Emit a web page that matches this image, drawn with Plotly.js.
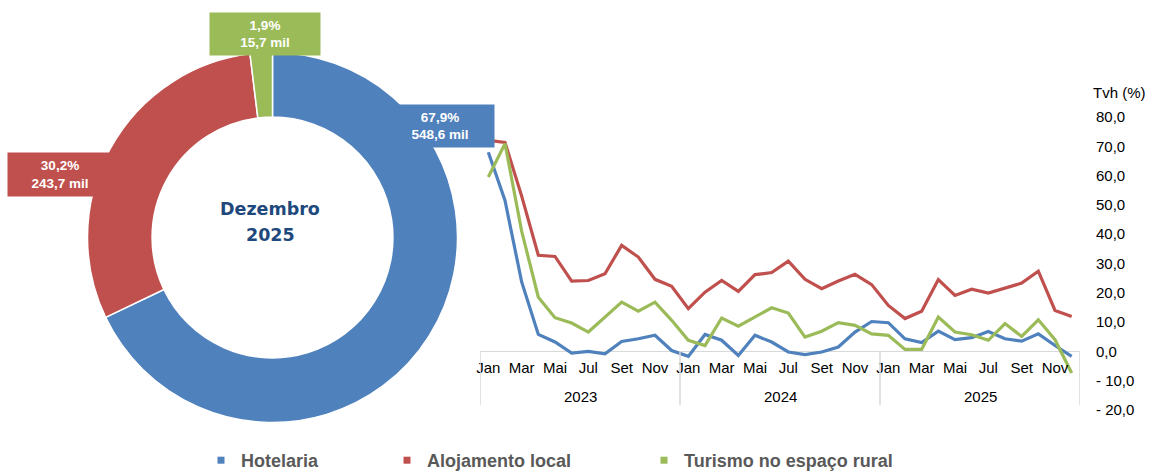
<!DOCTYPE html>
<html lang="pt">
<head>
<meta charset="utf-8">
<script src="https://cdn.plot.ly/plotly-3.0.1.min.js"></script>
<style>
  html, body { margin: 0; padding: 0; background: #ffffff; }
  #chart { width: 1150px; height: 472px; }
</style>
</head>
<body>
<div id="chart"></div>
<script>
// Series names and colours
const seriesNames = ['Hotelaria', 'Alojamento local', 'Turismo no espaço rural'];
const seriesColors = ['#4F81BD', '#C0504D', '#9BBB59'];

// Donut: guests in December 2025 (thousands)
const donutTitle = ['Dezembro', '2025'];
const donutValues = [548.6, 243.7, 15.7];

// Monthly year-on-year change (%), Jan 2023 .. Dez 2025
const years = ['2023', '2024', '2025'];
const months = ['Jan', 'Fev', 'Mar', 'Abr', 'Mai', 'Jun', 'Jul', 'Ago', 'Set', 'Out', 'Nov', 'Dez'];

const hotelaria = [
  68.0, 51.5, 23.7, 5.8, 3.2, -0.6, 0.0, -0.8, 3.4, 4.3, 5.5, 0.3,
  -1.7, 5.8, 3.8, -1.4, 5.5, 3.2, -0.2, -1.1, -0.2, 1.5, 6.6, 10.2,
  9.8, 4.3, 3.0, 6.9, 4.0, 4.7, 6.8, 4.3, 3.5, 6.0, 2.0, -1.7
];
const alojamentoLocal = [
  72.0, 71.3, 53.0, 32.8, 32.4, 24.0, 24.2, 26.5, 36.2, 32.2, 24.6, 22.2,
  14.6, 20.2, 24.2, 20.5, 26.2, 26.9, 30.8, 24.6, 21.4, 24.0, 26.3, 22.8,
  15.7, 11.2, 13.7, 24.5, 19.1, 21.2, 19.9, 21.7, 23.3, 27.4, 14.0, 11.9
];
const turismoRural = [
  59.5, 70.9, 41.0, 18.5, 11.5, 9.7, 6.6, 11.7, 16.8, 13.7, 16.8, 10.6,
  3.8, 2.0, 11.4, 8.6, 11.7, 14.9, 13.1, 4.9, 6.9, 9.8, 8.9, 6.0,
  5.5, 0.7, 0.7, 11.7, 6.6, 5.7, 3.8, 9.5, 5.1, 10.8, 4.0, -7.4
];

// Value axis ticks
const yTickVals = [-20, -10, 0, 10, 20, 30, 40, 50, 60, 70, 80];
const yTickText = ['- 20,0', '- 10,0', '0,0', '10,0', '20,0', '30,0', '40,0', '50,0', '60,0', '70,0', '80,0'];
const yAxisLabel = 'Tvh (%)';

// ---------------------------------------------------------------
const W = 1150, H = 472;
const px = x => x / W;          // pixel -> paper x
const py = y => 1 - y / H;      // pixel -> paper y
const FONT = 'Liberation Sans, Arial, Helvetica, sans-serif';
const fmt1 = v => v.toFixed(1).replace('.', ',');

// one category per month, labelled every second month on the axis
const categories = [];
years.forEach(y => months.forEach(m => categories.push(m + ' ' + y)));
const tickVals = categories.filter((c, i) => i % 2 === 0);
const tickText = tickVals.map(c => c.split(' ')[0]);

const lineSeries = [hotelaria, alojamentoLocal, turismoRural];

const traces = [];

// donut
traces.push({
  type: 'pie',
  values: donutValues,
  labels: seriesNames,
  sort: false,
  direction: 'clockwise',
  rotation: 0,
  hole: 0.651,
  textinfo: 'none',
  hoverinfo: 'skip',
  showlegend: false,
  marker: { colors: seriesColors, line: { color: '#ffffff', width: 1.5 } },
  domain: { x: [px(87.5), px(457.5)], y: [py(422.5), py(52.5)] }
});

// monthly lines
lineSeries.forEach((vals, k) => {
  traces.push({
    type: 'scatter',
    mode: 'lines',
    x: categories,
    y: vals,
    name: seriesNames[k],
    line: { color: seriesColors[k], width: 3.2 },
    showlegend: false,
    hoverinfo: 'skip',
    xaxis: 'x', yaxis: 'y'
  });
});

// legend entries (square keys), one legend box per series
const legendIds = ['legend', 'legend2', 'legend3'];
seriesNames.forEach((name, k) => {
  traces.push({
    type: 'scatter',
    mode: 'markers',
    x: [null], y: [null],
    name: name,
    legend: legendIds[k],
    marker: { symbol: 'square', size: 7, color: seriesColors[k] },
    showlegend: true,
    hoverinfo: 'skip',
    xaxis: 'x', yaxis: 'y'
  });
});

const legendBase = {
  orientation: 'v',
  xanchor: 'left', yanchor: 'middle',
  y: py(460.5),
  bgcolor: 'rgba(0,0,0,0)',
  borderwidth: 0,
  itemwidth: 30,
  font: { family: FONT, size: 18, color: '#595959', weight: 'bold' }
};
const legendX = [201, 387, 644];

// donut labels
const total = donutValues.reduce((a, b) => a + b, 0);
const labelBoxes = [
  { cx: 440, cy: 126, w: 108, h: 42 },
  { cx: 60, cy: 174, w: 104, h: 43 },
  { cx: 265, cy: 34.5, w: 110, h: 42 }
];
const annotations = [];
donutValues.forEach((v, k) => {
  const b = labelBoxes[k];
  annotations.push({
    xref: 'paper', yref: 'paper',
    x: px(b.cx), y: py(b.cy),
    xanchor: 'center', yanchor: 'middle',
    width: b.w, height: b.h,
    borderpad: 0,
    bgcolor: seriesColors[k],
    showarrow: false,
    align: 'center', valign: 'middle',
    text: fmt1(v / total * 100) + '%<br>' + fmt1(v) + ' mil',
    font: { family: FONT, size: 13.5, color: '#ffffff', weight: 'bold' }
  });
});

// centre caption of the donut
[209, 235].forEach((yy, i) => {
  annotations.push({
    xref: 'paper', yref: 'paper',
    x: px(270), y: py(yy),
    xanchor: 'center', yanchor: 'middle',
    showarrow: false,
    text: donutTitle[i],
    font: { family: 'DejaVu Sans, sans-serif', size: 17.5, color: '#1F497D', weight: 'bold' }
  });
});

// year labels under the month labels
years.forEach((y, i) => {
  annotations.push({
    xref: 'x', yref: 'paper',
    x: i * months.length + (months.length - 1) / 2,
    y: py(396),
    xanchor: 'center', yanchor: 'middle',
    showarrow: false,
    text: y,
    font: { family: FONT, size: 15, color: '#000000' }
  });
});

// value-axis caption
annotations.push({
  xref: 'paper', yref: 'paper',
  x: px(1091), y: py(92.5),
  xanchor: 'left', yanchor: 'middle',
  showarrow: false,
  text: yAxisLabel,
  font: { family: FONT, size: 15, color: '#000000' }
});

// year group dividers on the category axis
const shapes = [];
for (let i = 0; i <= years.length; i++) {
  shapes.push({
    type: 'line', xref: 'x', yref: 'paper',
    x0: i * months.length - 0.5, x1: i * months.length - 0.5,
    y0: py(351), y1: py(405),
    line: { color: '#D9D9D9', width: 1.5 }
  });
}

const layout = {
  width: W, height: H,
  margin: { l: 0, r: 0, t: 0, b: 0, pad: 0, autoexpand: false },
  paper_bgcolor: '#ffffff',
  plot_bgcolor: 'rgba(0,0,0,0)',
  font: { family: FONT, size: 15, color: '#000000' },
  showlegend: true,
  xaxis: {
    type: 'category',
    domain: [px(480), px(1080)],
    range: [-0.5, categories.length - 0.5],
    anchor: 'free',
    position: py(351),
    tickmode: 'array',
    tickvals: tickVals,
    ticktext: tickText,
    tickangle: 0,
    ticks: '',
    showgrid: false,
    showline: false,
    zeroline: false,
    ticklabelstandoff: 6,
    automargin: false,
    tickfont: { family: FONT, size: 15, color: '#000000' }
  },
  yaxis: {
    domain: [py(410), py(117)],
    range: [-20, 80],
    side: 'right',
    anchor: 'x',
    tickmode: 'array',
    tickvals: yTickVals,
    ticktext: yTickText,
    ticks: '',
    showgrid: false,
    showline: false,
    zeroline: true,
    zerolinecolor: '#D9D9D9',
    zerolinewidth: 1.5,
    ticklabelstandoff: 15,
    automargin: false,
    tickfont: { family: FONT, size: 15, color: '#000000' }
  },
  annotations: annotations,
  shapes: shapes
};
legendIds.forEach((id, k) => {
  layout[id] = Object.assign({}, legendBase, { x: px(legendX[k]) });
});

Plotly.newPlot('chart', traces, layout, { staticPlot: true, displayModeBar: false });
</script>
</body>
</html>
